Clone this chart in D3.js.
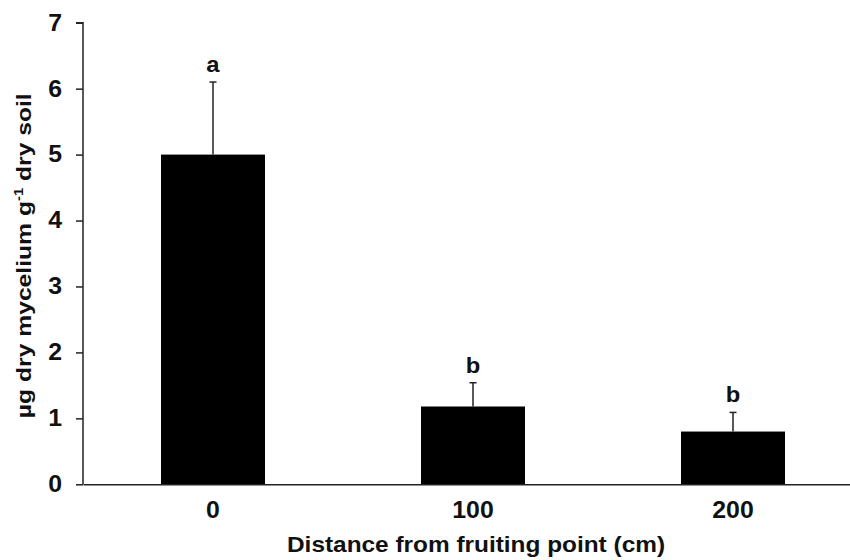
<!DOCTYPE html>
<html>
<head>
<meta charset="utf-8">
<script src="https://cdn.jsdelivr.net/npm/d3@7"></script>
<style>
  body { margin: 0; background: #fff; }
  svg { display: block; font-family: "Liberation Sans", Arial, sans-serif; }
</style>
</head>
<body>
<div id="chart"></div>
<script>
// data
const distances = ["0", "100", "200"];
const means = [5.0, 1.18, 0.80];
const errors = [1.1, 0.36, 0.29];
const letters = ["a", "b", "b"];
const yTicks = [0, 1, 2, 3, 4, 5, 6, 7];

const width = 850, height = 560;
const margin = { top: 22.7, right: -13, bottom: 75.7, left: 83 };
// the source figure looks a bit stretched sideways
const stretch = 1.08;

const svg = d3.select("#chart").append("svg")
    .attr("width", width)
    .attr("height", height);

const x = d3.scaleBand()
    .domain(distances)
    .range([margin.left, width - margin.right])
    .paddingInner(0.6)
    .paddingOuter(0.3);

const y = d3.scaleLinear()
    .domain([0, 7])
    .range([height - margin.bottom, margin.top]);

const rows = distances.map((d, i) => ({ d, m: means[i], e: errors[i], l: letters[i] }));

function widen(sel, k) {
    sel.each(function() {
        const len = this.getComputedTextLength();
        d3.select(this).attr("textLength", len * k).attr("lengthAdjust", "spacingAndGlyphs");
    });
}

// bars
svg.append("g")
    .selectAll("rect")
    .data(rows)
    .join("rect")
    .attr("x", r => x(r.d))
    .attr("y", r => y(r.m))
    .attr("width", x.bandwidth())
    .attr("height", r => y(0) - y(r.m))
    .attr("fill", "#000");

// error bars (upper only)
const err = svg.append("g")
    .attr("stroke", "#222")
    .attr("stroke-width", 1.5);

err.selectAll("line.v")
    .data(rows)
    .join("line")
    .attr("class", "v")
    .attr("x1", r => x(r.d) + x.bandwidth() / 2)
    .attr("x2", r => x(r.d) + x.bandwidth() / 2)
    .attr("y1", r => y(r.m))
    .attr("y2", r => y(r.m + r.e));

err.selectAll("line.cap")
    .data(rows)
    .join("line")
    .attr("class", "cap")
    .attr("x1", r => x(r.d) + x.bandwidth() / 2 - 3.5)
    .attr("x2", r => x(r.d) + x.bandwidth() / 2 + 3.5)
    .attr("y1", r => y(r.m + r.e))
    .attr("y2", r => y(r.m + r.e));

// significance letters
svg.append("g")
    .selectAll("text")
    .data(rows)
    .join("text")
    .attr("x", r => x(r.d) + x.bandwidth() / 2)
    .attr("y", r => y(r.m + r.e) - 10)
    .attr("text-anchor", "middle")
    .attr("font-size", 22)
    .attr("font-weight", "bold")
    .attr("fill", "#111")
    .text(r => r.l)
    .call(widen, stretch);

// y axis
const yAxis = svg.append("g")
    .attr("transform", `translate(${margin.left},0)`)
    .call(d3.axisLeft(y).tickValues(yTicks).tickFormat(d3.format("d")).tickSize(7).tickPadding(14));

yAxis.select(".domain").attr("stroke", "#222").attr("stroke-width", 1.5).attr("d", `M-7,${y(7)}H0V${y(0)}`);
yAxis.selectAll(".tick line").attr("stroke", "#222").attr("stroke-width", 1.5);
yAxis.selectAll(".tick text")
    .attr("font-size", 23)
    .attr("font-weight", "bold")
    .attr("fill", "#111")
    .attr("font-family", "Liberation Sans, Arial, sans-serif")
    .call(widen, stretch);

// x axis
const xAxis = svg.append("g")
    .attr("transform", `translate(0,${y(0)})`)
    .call(d3.axisBottom(x).tickSize(0).tickPadding(17));

xAxis.select(".domain").attr("stroke", "#222").attr("stroke-width", 1.5);
xAxis.selectAll(".tick text")
    .attr("font-size", 23)
    .attr("font-weight", "bold")
    .attr("fill", "#111")
    .attr("font-family", "Liberation Sans, Arial, sans-serif")
    .call(widen, stretch);

// axis titles
const xTitle = svg.append("text")
    .attr("x", 476)
    .attr("y", 552)
    .attr("text-anchor", "middle")
    .attr("font-size", 22)
    .attr("font-weight", "bold")
    .attr("fill", "#111")
    .text("Distance from fruiting point (cm)");
widen(xTitle, 378 / xTitle.node().getComputedTextLength());

const yTitle = svg.append("text")
    .attr("text-anchor", "middle")
    .attr("font-size", 20)
    .attr("font-weight", "bold")
    .attr("fill", "#111");

yTitle.append("tspan").text("µg dry mycelium g");
yTitle.append("tspan").attr("dy", -8).attr("font-size", 12).text("-1");
yTitle.append("tspan").attr("dy", 8).text(" dry soil");

const yLen = yTitle.node().getBBox().width;
yTitle.attr("transform", `translate(31,${255.7}) rotate(-90) scale(${325 / yLen},1)`);
</script>
</body>
</html>
